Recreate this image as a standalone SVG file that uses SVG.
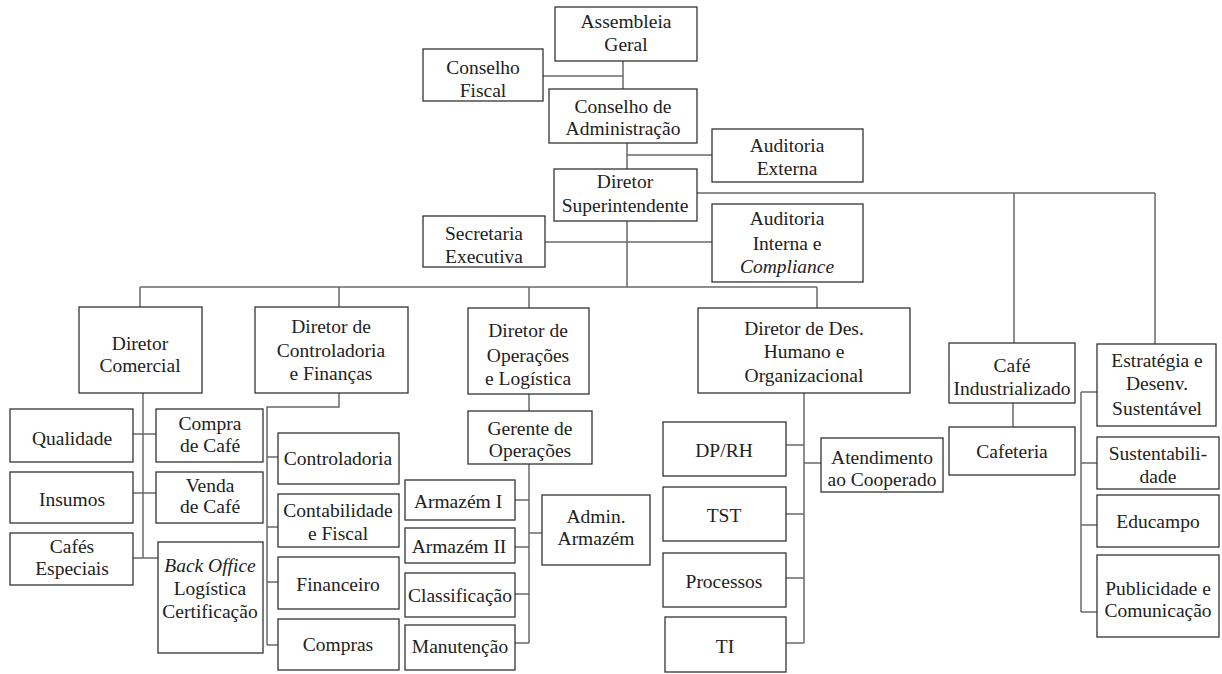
<svg xmlns="http://www.w3.org/2000/svg" width="1222" height="674" viewBox="0 0 1222 674">
<style>
.b{fill:#fff;stroke:#333;stroke-width:1.3}
.t{font-family:"Liberation Serif","Times New Roman",serif;font-size:19.5px;fill:#222;text-anchor:middle}
.i{font-style:italic}
.c{fill:none;stroke:#6a6a6a;stroke-width:1.5}
</style>
<rect width="1222" height="674" fill="#fff"/>
<g id="connectors" class="c">
<path d="M623 61V89M543 76H623"/>
<path d="M627 143V169M627 155H712"/>
<path d="M697 193H1155M1014 193V343M1155 193V344"/>
<path d="M545 242H712M627 221V287M140 287H817M140 287V307M339 287V307M529 287V308M817 287V308"/>
<path d="M143 393V558M133 434H156M133 493H156M133 558H158"/>
<path d="M339 393V407H267V645M267 457H278M267 527H278M267 582H278M267 645H278"/>
<path d="M529 394V411M529 464V643M515 500H529M515 547H529M515 594H529M515 643H529M529 533H542"/>
<path d="M804 393V643M786 445H804M786 514H804M786 578H804M786 643H804M804 463H821"/>
<path d="M1013 403V427"/>
<path d="M1081 392V612M1081 392H1097M1081 463H1097M1081 525H1097M1081 612H1097"/>
</g>
<g id="assembleia"><rect class="b" x="555" y="7" width="142" height="54"/><text class="t" x="626" y="28">Assembleia</text><text class="t" x="626" y="51">Geral</text></g>
<g id="conselho-fiscal"><rect class="b" x="423" y="49" width="120" height="52"/><text class="t" x="483" y="74">Conselho</text><text class="t" x="483" y="97">Fiscal</text></g>
<g id="conselho-adm"><rect class="b" x="549" y="89" width="148" height="54"/><text class="t" x="623" y="113">Conselho de</text><text class="t" x="623" y="135">Administração</text></g>
<g id="auditoria-externa"><rect class="b" x="712" y="129" width="151" height="53"/><text class="t" x="787" y="152">Auditoria</text><text class="t" x="787" y="175">Externa</text></g>
<g id="diretor-sup"><rect class="b" x="554" y="169" width="143" height="52"/><text class="t" x="625" y="188">Diretor</text><text class="t" x="625" y="212">Superintendente</text></g>
<g id="secretaria"><rect class="b" x="423" y="216" width="122" height="51"/><text class="t" x="484" y="240">Secretaria</text><text class="t" x="484" y="263">Executiva</text></g>
<g id="auditoria-interna"><rect class="b" x="712" y="204" width="151" height="78"/><text class="t" x="787" y="225">Auditoria</text><text class="t" x="787" y="250">Interna e</text><text class="t i" x="787" y="273">Compliance</text></g>
<g id="dir-comercial"><rect class="b" x="79" y="307" width="123" height="86"/><text class="t" x="140" y="350">Diretor</text><text class="t" x="140" y="372">Comercial</text></g>
<g id="dir-controladoria"><rect class="b" x="255" y="307" width="153" height="86"/><text class="t" x="331" y="333">Diretor de</text><text class="t" x="331" y="357">Controladoria</text><text class="t" x="331" y="380">e Finanças</text></g>
<g id="dir-operacoes"><rect class="b" x="468" y="308" width="121" height="86"/><text class="t" x="528" y="337">Diretor de</text><text class="t" x="528" y="362">Operações</text><text class="t" x="528" y="385">e Logística</text></g>
<g id="dir-dho"><rect class="b" x="698" y="308" width="212" height="85"/><text class="t" x="804" y="335">Diretor de Des.</text><text class="t" x="804" y="358">Humano e</text><text class="t" x="804" y="382">Organizacional</text></g>
<g id="cafe-ind"><rect class="b" x="949" y="343" width="126" height="60"/><text class="t" x="1012" y="372">Café</text><text class="t" x="1012" y="395">Industrializado</text></g>
<g id="estrategia"><rect class="b" x="1097" y="344" width="119" height="82"/><text class="t" x="1157" y="367">Estratégia e</text><text class="t" x="1157" y="390">Desenv.</text><text class="t" x="1157" y="415">Sustentável</text></g>
<g id="qualidade"><rect class="b" x="10" y="409" width="123" height="53"/><text class="t" x="72" y="445">Qualidade</text></g>
<g id="compra-cafe"><rect class="b" x="156" y="409" width="107" height="53"/><text class="t" x="210" y="430">Compra</text><text class="t" x="210" y="452">de Café</text></g>
<g id="insumos"><rect class="b" x="10" y="472" width="123" height="51"/><text class="t" x="72" y="506">Insumos</text></g>
<g id="venda-cafe"><rect class="b" x="156" y="472" width="107" height="51"/><text class="t" x="210" y="492">Venda</text><text class="t" x="210" y="513">de Café</text></g>
<g id="cafes-especiais"><rect class="b" x="10" y="533" width="123" height="52"/><text class="t" x="72" y="553">Cafés</text><text class="t" x="72" y="575">Especiais</text></g>
<g id="back-office"><rect class="b" x="158" y="542" width="105" height="111"/><text class="t i" x="210" y="572">Back Office</text><text class="t" x="210" y="595">Logística</text><text class="t" x="210" y="618">Certificação</text></g>
<g id="controladoria"><rect class="b" x="278" y="433" width="121" height="51"/><text class="t" x="338" y="465">Controladoria</text></g>
<g id="contabilidade"><rect class="b" x="278" y="494" width="121" height="53"/><text class="t" x="338" y="517">Contabilidade</text><text class="t" x="338" y="540">e Fiscal</text></g>
<g id="financeiro"><rect class="b" x="278" y="557" width="121" height="52"/><text class="t" x="338" y="591">Financeiro</text></g>
<g id="compras"><rect class="b" x="278" y="619" width="121" height="51"/><text class="t" x="338" y="651">Compras</text></g>
<g id="gerente-op"><rect class="b" x="468" y="411" width="124" height="53"/><text class="t" x="530" y="435">Gerente de</text><text class="t" x="530" y="457">Operações</text></g>
<g id="armazem1"><rect class="b" x="405" y="480" width="110" height="40"/><text class="t" x="458" y="508">Armazém  I</text></g>
<g id="armazem2"><rect class="b" x="405" y="528" width="110" height="35"/><text class="t" x="459" y="553">Armazém  II</text></g>
<g id="classificacao"><rect class="b" x="405" y="573" width="110" height="44"/><text class="t" x="460" y="602">Classificação</text></g>
<g id="manutencao"><rect class="b" x="405" y="625" width="110" height="45"/><text class="t" x="460" y="653">Manutenção</text></g>
<g id="admin-armazem"><rect class="b" x="542" y="495" width="108" height="70"/><text class="t" x="596" y="523">Admin.</text><text class="t" x="596" y="545">Armazém</text></g>
<g id="dp-rh"><rect class="b" x="663" y="422" width="123" height="54"/><text class="t" x="724" y="457">DP/RH</text></g>
<g id="atendimento"><rect class="b" x="821" y="438" width="122" height="54"/><text class="t" x="882" y="464">Atendimento</text><text class="t" x="882" y="486">ao Cooperado</text></g>
<g id="tst"><rect class="b" x="663" y="487" width="123" height="54"/><text class="t" x="724" y="522">TST</text></g>
<g id="processos"><rect class="b" x="663" y="553" width="123" height="54"/><text class="t" x="724" y="588">Processos</text></g>
<g id="ti"><rect class="b" x="665" y="617" width="121" height="55"/><text class="t" x="725" y="653">TI</text></g>
<g id="cafeteria"><rect class="b" x="949" y="427" width="126" height="48"/><text class="t" x="1012" y="458">Cafeteria</text></g>
<g id="sustentabilidade"><rect class="b" x="1097" y="437" width="122" height="52"/><text class="t" x="1158" y="460">Sustentabili-</text><text class="t" x="1158" y="483">dade</text></g>
<g id="educampo"><rect class="b" x="1097" y="495" width="122" height="52"/><text class="t" x="1158" y="528">Educampo</text></g>
<g id="publicidade"><rect class="b" x="1097" y="555" width="122" height="82"/><text class="t" x="1158" y="595">Publicidade e</text><text class="t" x="1158" y="617">Comunicação</text></g>
</svg>
